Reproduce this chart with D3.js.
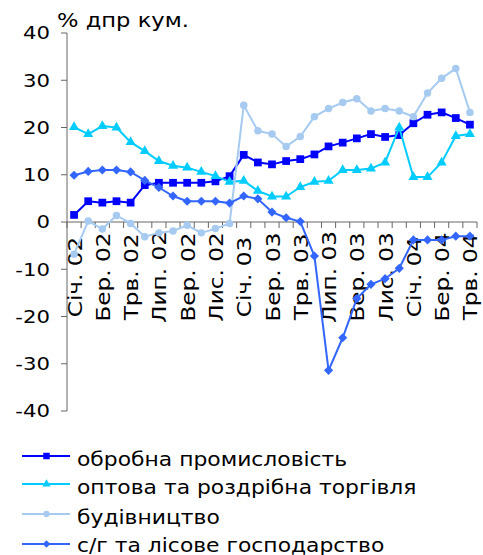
<!DOCTYPE html>
<html>
<head>
<meta charset="utf-8">
<script src="https://cdn.jsdelivr.net/npm/d3@7"></script>
<style>
  body { margin: 0; background: #fff; }
  svg { display: block; font-family: "DejaVu Sans", Verdana, sans-serif; }
</style>
</head>
<body>
<svg id="chart" width="483" height="555"></svg>
<script>
// months Jan 2002 .. May 2004
const months = ["Січ.", "Лют.", "Бер.", "Квт.", "Трв.", "Чрв.", "Лип.", "Сер.", "Вер.", "Жов.", "Лис.", "Грд."];
const categories = [];
["02", "03", "04"].forEach(yr => months.forEach(m => categories.push(m + " " + yr)));
categories.splice(29);

const yTicks = [-40, -30, -20, -10, 0, 10, 20, 30, 40];

const manufacturing = [1.5, 4.4, 4.1, 4.4, 4.1, 7.8, 8.3, 8.3, 8.3, 8.3, 8.6, 9.7, 14.2, 12.6, 12.2, 12.9, 13.3, 14.3, 16.0, 16.8, 17.7, 18.6, 18.0, 18.4, 20.9, 22.7, 23.2, 22.0, 20.6];
const trade = [20.1, 18.6, 20.3, 20.0, 16.9, 15.0, 12.9, 11.9, 11.5, 10.6, 9.7, 8.5, 8.7, 6.6, 5.4, 5.4, 7.4, 8.5, 8.7, 11.0, 11.0, 11.3, 12.6, 20.0, 9.5, 9.5, 12.6, 18.2, 18.6];
const construction = [-6.8, 0.2, -1.5, 1.4, -0.3, -3.1, -2.3, -1.9, -0.7, -2.3, -1.4, -0.3, 24.7, 19.3, 18.6, 16.0, 18.1, 22.3, 24.0, 25.3, 26.1, 23.5, 24.0, 23.5, 22.3, 27.3, 30.4, 32.5, 23.2];
const agriculture = [9.9, 10.7, 11.0, 11.0, 10.6, 8.8, 7.3, 5.5, 4.4, 4.4, 4.4, 4.0, 5.5, 4.9, 2.1, 0.9, 0.1, -7.2, -31.4, -24.5, -16.2, -13.2, -12.0, -9.8, -3.8, -3.8, -3.8, -3.0, -3.0];

const series = [
  { name: "обробна промисловість", values: manufacturing, color: "#0000ff", symbol: d3.symbolSquare, size: 60, rot: 0 },
  { name: "оптова та роздрібна торгівля", values: trade, color: "#00ccff", symbol: d3.symbolTriangle, size: 44, rot: 0 },
  { name: "будівництво", values: construction, color: "#a6caf0", symbol: d3.symbolCircle, size: 44, rot: 0 },
  { name: "с/г та лісове господарство", values: agriculture, color: "#3366ff", symbol: d3.symbolSquare, size: 42, rot: 45 }
];
const legendRows = [456, 484, 514, 544];

const svg = d3.select("#chart");
const axisColor = "#666";
const wide = 1.18; // text in the picture is drawn wider than DejaVu

const x = d3.scalePoint().domain(categories).range([67, 477]).padding(0.5);
const y = d3.scaleLinear().domain([-40, 40]).range([411, 33]);
const step = x.step();

// y axis
const yAxis = svg.append("g").attr("transform", "translate(67,0)");
yAxis.append("line").attr("x1", 0).attr("x2", 0).attr("y1", y(40)).attr("y2", y(-40)).attr("stroke", axisColor);
const yt = yAxis.selectAll("g.tick").data(yTicks).join("g")
  .attr("class", "tick")
  .attr("transform", d => `translate(0,${y(d)})`);
yt.append("line").attr("x1", -6).attr("x2", 0).attr("stroke", axisColor);
yt.append("text")
  .attr("transform", `translate(-17,0) scale(${wide},1)`)
  .attr("text-anchor", "end")
  .attr("dy", "0.36em")
  .attr("font-size", 18)
  .text(d => String(d));

// x axis at zero
const xAxis = svg.append("g").attr("transform", `translate(0,${y(0)})`);
xAxis.append("line")
  .attr("x1", x.range()[0]).attr("x2", x.range()[1])
  .attr("stroke", axisColor);
const bounds = categories.map(c => x(c) - step / 2).concat([x(categories[categories.length - 1]) + step / 2]);
xAxis.selectAll("line.tk").data(bounds).join("line")
  .attr("class", "tk")
  .attr("x1", d => d).attr("x2", d => d)
  .attr("y1", 0).attr("y2", 6)
  .attr("stroke", axisColor);

// category labels, centred, read upward (lines go on top of them)
xAxis.selectAll("text").data(categories.filter((c, i) => i % 2 === 0)).join("text")
  .attr("transform", d => `translate(${x(d) + 7.5},55) rotate(-90) scale(1.22,1)`)
  .attr("text-anchor", "middle")
  .attr("font-size", 19)
  .text(d => d);

// title
svg.append("text")
  .attr("transform", `translate(57,26.5) scale(1.16,1)`)
  .attr("font-size", 19.5)
  .text("% дпр кум.");

// lines
const line = d3.line().x((d, i) => x(categories[i])).y(d => y(d));

series.forEach(s => {
  const g = svg.append("g");
  g.append("path")
    .datum(s.values)
    .attr("fill", "none")
    .attr("stroke", s.color)
    .attr("stroke-width", 2)
    .attr("d", line);
  g.selectAll("path.pt").data(s.values).join("path")
    .attr("class", "pt")
    .attr("transform", (d, i) => `translate(${x(categories[i])},${y(d)}) rotate(${s.rot})`)
    .attr("d", d3.symbol().type(s.symbol).size(s.size))
    .attr("fill", s.color);
});

// legend
const legend = svg.append("g");
series.forEach((s, i) => {
  const row = legend.append("g").attr("transform", `translate(0,${legendRows[i]})`);
  row.append("line").attr("x1", 22).attr("x2", 70).attr("stroke", s.color).attr("stroke-width", 2);
  row.append("path").attr("transform", `translate(46.5,0) rotate(${s.rot})`)
    .attr("d", d3.symbol().type(s.symbol).size(s.size * 0.7))
    .attr("fill", s.color);
  row.append("text")
    .attr("transform", `translate(77,${i === 3 ? 7.7 : 10}) scale(1.15,1)`)
    .attr("font-size", 19)
    .text(s.name);
});
</script>
</body>
</html>
